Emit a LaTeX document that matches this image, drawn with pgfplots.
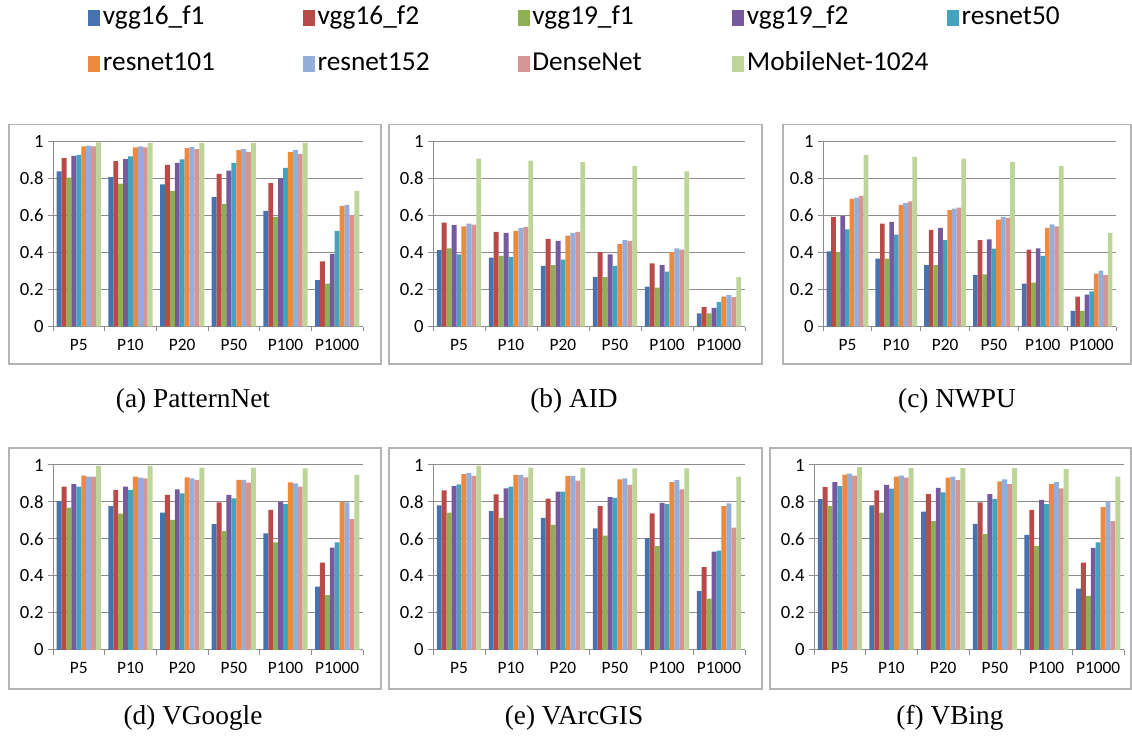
\documentclass[border=0pt]{standalone}
\usepackage{fontspec}
\setmainfont{Liberation Serif}
\newfontfamily\calfont{Carlito}
\usepackage{pgfplots}
\usepackage{pgfplotstable}
\pgfplotsset{compat=1.18}

\definecolor{c1}{HTML}{4673AF}
\definecolor{c2}{HTML}{BA4A47}
\definecolor{c3}{HTML}{8FB052}
\definecolor{c4}{HTML}{775A9E}
\definecolor{c5}{HTML}{43A2BE}
\definecolor{c6}{HTML}{ED8A3F}
\definecolor{c7}{HTML}{93AEDA}
\definecolor{c8}{HTML}{D69593}
\definecolor{c9}{HTML}{BED59A}
\definecolor{gridgray}{HTML}{8C8C8C}
\definecolor{framegray}{HTML}{B4B4B4}

\pgfplotstableread{
x a b c d e f g h i
0 0.838 0.910 0.805 0.922 0.928 0.973 0.978 0.973 0.995
1 0.807 0.894 0.773 0.905 0.919 0.968 0.973 0.968 0.993
2 0.769 0.874 0.733 0.885 0.903 0.964 0.969 0.959 0.993
3 0.699 0.825 0.663 0.843 0.885 0.953 0.959 0.944 0.993
4 0.625 0.775 0.593 0.802 0.858 0.944 0.953 0.933 0.993
5 0.252 0.353 0.232 0.393 0.517 0.652 0.658 0.602 0.733
}\tPattern
\pgfplotstableread{
x a b c d e f g h i
0 0.413 0.562 0.423 0.548 0.391 0.542 0.557 0.551 0.908
1 0.373 0.512 0.382 0.506 0.377 0.517 0.533 0.537 0.897
2 0.328 0.474 0.332 0.463 0.362 0.492 0.506 0.512 0.888
3 0.267 0.402 0.267 0.391 0.328 0.447 0.468 0.463 0.868
4 0.216 0.342 0.211 0.332 0.297 0.402 0.423 0.416 0.838
5 0.072 0.106 0.072 0.101 0.132 0.162 0.171 0.160 0.267
}\tAID
\pgfplotstableread{
x a b c d e f g h i
0 0.407 0.591 0.402 0.598 0.526 0.690 0.697 0.706 0.928
1 0.368 0.557 0.368 0.566 0.497 0.658 0.667 0.677 0.917
2 0.332 0.523 0.332 0.533 0.467 0.629 0.638 0.643 0.908
3 0.278 0.467 0.283 0.472 0.422 0.578 0.593 0.587 0.888
4 0.232 0.416 0.238 0.423 0.382 0.533 0.553 0.542 0.868
5 0.086 0.162 0.086 0.173 0.191 0.286 0.303 0.278 0.506
}\tNWPU
\pgfplotstableread{
x a b c d e f g h i
0 0.805 0.883 0.769 0.897 0.883 0.942 0.937 0.937 0.995
1 0.778 0.865 0.737 0.883 0.865 0.937 0.932 0.928 0.995
2 0.742 0.838 0.703 0.868 0.847 0.933 0.928 0.919 0.986
3 0.681 0.798 0.643 0.838 0.820 0.919 0.919 0.905 0.986
4 0.631 0.757 0.582 0.802 0.789 0.906 0.901 0.883 0.982
5 0.342 0.472 0.297 0.553 0.582 0.802 0.798 0.708 0.946
}\tVGoogle
\pgfplotstableread{
x a b c d e f g h i
0 0.782 0.863 0.742 0.886 0.895 0.951 0.957 0.941 0.995
1 0.751 0.841 0.714 0.874 0.883 0.946 0.946 0.933 0.986
2 0.714 0.818 0.676 0.856 0.856 0.941 0.941 0.915 0.986
3 0.658 0.778 0.618 0.827 0.822 0.922 0.928 0.892 0.982
4 0.603 0.739 0.562 0.795 0.788 0.908 0.918 0.868 0.982
5 0.318 0.448 0.278 0.532 0.537 0.778 0.793 0.662 0.937
}\tVArcGIS
\pgfplotstableread{
x a b c d e f g h i
0 0.816 0.881 0.778 0.907 0.886 0.948 0.953 0.942 0.988
1 0.782 0.863 0.742 0.892 0.872 0.937 0.943 0.932 0.983
2 0.748 0.843 0.697 0.877 0.852 0.932 0.937 0.918 0.983
3 0.682 0.798 0.627 0.843 0.817 0.912 0.922 0.897 0.983
4 0.622 0.757 0.562 0.812 0.788 0.897 0.907 0.873 0.978
5 0.332 0.472 0.292 0.552 0.582 0.772 0.803 0.697 0.937
}\tVBing

\newcommand\ninebars[1]{%
  \addplot[fill=c1,draw=none] table[x=x,y=a]{#1};
  \addplot[fill=c2,draw=none] table[x=x,y=b]{#1};
  \addplot[fill=c3,draw=none] table[x=x,y=c]{#1};
  \addplot[fill=c4,draw=none] table[x=x,y=d]{#1};
  \addplot[fill=c5,draw=none] table[x=x,y=e]{#1};
  \addplot[fill=c6,draw=none] table[x=x,y=f]{#1};
  \addplot[fill=c7,draw=none] table[x=x,y=g]{#1};
  \addplot[fill=c8,draw=none] table[x=x,y=h]{#1};
  \addplot[fill=c9,draw=none] table[x=x,y=i]{#1};
}
\newcommand\LE[1]{\makebox[148pt][l]{#1}}

\pgfplotsset{
  panel/.style={
    scale only axis,
    anchor=south west,
    ybar=0pt, bar width=0.095,
    xmin=-0.5, xmax=5.5, ymin=0, ymax=1,
    xtick={-0.5,0.5,1.5,2.5,3.5,4.5,5.5},
    x tick label as interval,
    xticklabels={P5,P10,P20,P50,P100,P1000},
    ytick={0,0.2,0.4,0.6,0.8,1},
    yticklabel style={/pgf/number format/fixed,/pgf/number format/precision=1,
      font=\calfont\fontsize{14}{16}\selectfont},
    /pgf/number format/assume math mode=true,
    tick label style={font=\calfont\fontsize{13}{15}\selectfont, text=black},
    xticklabel style={yshift=-2.5pt},
    ymajorgrids,
    grid style={gridgray, line width=0.75pt},
    axis x line*=bottom, axis y line*=left,
    axis line style={gridgray, line width=0.75pt},
    tick style={gridgray, line width=0.75pt},
    tick align=outside,
    major tick length=3.5pt,
    legend image code/.code={\fill[##1] (0pt,-5.5pt) rectangle (9pt,6.5pt);},
  },
}

\begin{document}
\begin{tikzpicture}[x=0.75pt,y=0.75pt]
\useasboundingbox (0,0) rectangle (1132,739);
% frames
\draw[framegray, line width=1.2pt] (9,614.3) rectangle (381,375);
\draw[framegray, line width=1.2pt] (389,614.3) rectangle (762,375);
\draw[framegray, line width=1.2pt] (783,614.3) rectangle (1131,375);
\draw[framegray, line width=1.2pt] (9,291) rectangle (381,50);
\draw[framegray, line width=1.2pt] (389,291) rectangle (762,50);
\draw[framegray, line width=1.2pt] (770,291) rectangle (1131,50);

\begin{axis}[panel, at={(39.75pt,309.225pt)}, width=232.5pt, height=138.9pt,
  legend columns=5,
  legend cell align=left,
  legend style={at={(axis description cs:0.113,1.735)}, anchor=north west,
    draw=none, fill=none, inner sep=0pt, row sep=15.5pt,
    font=\calfont\fontsize{20.5}{24}\selectfont,
    nodes={inner xsep=2pt, inner ysep=0pt, text height=14pt, text depth=5pt}},
  legend entries={\LE{vgg16\_f1},\LE{vgg16\_f2},\LE{vgg19\_f1},\LE{vgg19\_f2},\LE{resnet50},\LE{resnet101},\LE{resnet152},\LE{DenseNet},\LE{MobileNet-1024}},
  ]
\ninebars{\tPattern}
\end{axis}
\begin{axis}[panel, at={(324.75pt,309.225pt)}, width=234pt, height=138.9pt]
\ninebars{\tAID}
\end{axis}
\begin{axis}[panel, at={(617.25pt,309.225pt)}, width=219.75pt, height=138.9pt]
\ninebars{\tNWPU}
\end{axis}
\begin{axis}[panel, at={(39.75pt,66.75pt)}, width=232.5pt, height=138.75pt]
\ninebars{\tVGoogle}
\end{axis}
\begin{axis}[panel, at={(324.75pt,66.75pt)}, width=234pt, height=138.75pt]
\ninebars{\tVArcGIS}
\end{axis}
\begin{axis}[panel, at={(610.5pt,66.75pt)}, width=232.5pt, height=138.75pt]
\ninebars{\tVBing}
\end{axis}

\node[font=\fontsize{20.5}{24}\selectfont] at (193,338) {(a) PatternNet};
\node[font=\fontsize{20.5}{24}\selectfont] at (574,338) {(b) AID};
\node[font=\fontsize{20.5}{24}\selectfont] at (957,338) {(c) NWPU};
\node[font=\fontsize{20.5}{24}\selectfont] at (193,21) {(d) VGoogle};
\node[font=\fontsize{20.5}{24}\selectfont] at (574,21) {(e) VArcGIS};
\node[font=\fontsize{20.5}{24}\selectfont] at (950,21) {(f) VBing};
\end{tikzpicture}
\end{document}
